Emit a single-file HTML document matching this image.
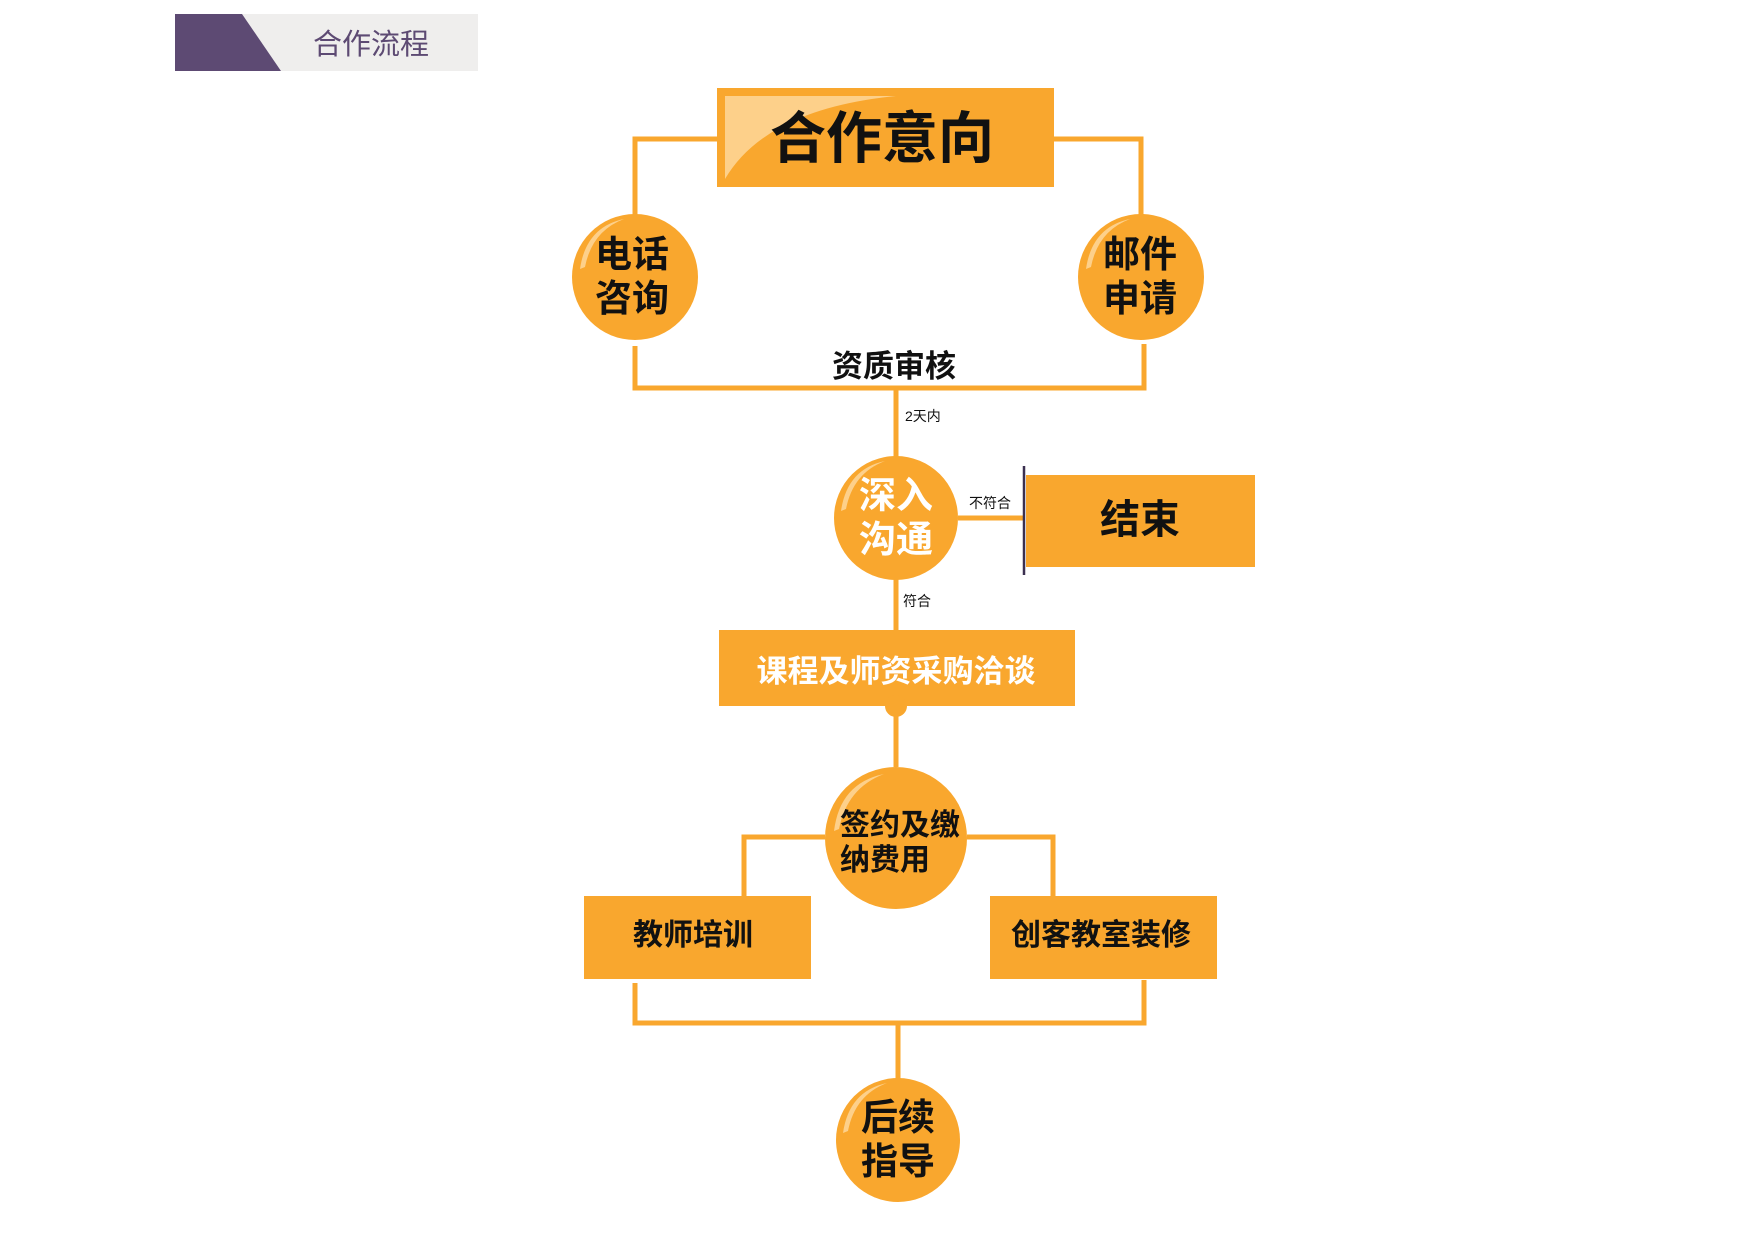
<!DOCTYPE html>
<html><head><meta charset="utf-8"><style>
html,body{margin:0;padding:0;background:#fff;}
svg{display:block;}
text{font-family:"Liberation Sans","Noto Sans CJK SC",sans-serif;}
</style></head><body>
<svg width="1754" height="1240" viewBox="0 0 1754 1240" xmlns="http://www.w3.org/2000/svg">
<rect x="175" y="14" width="303" height="57" fill="#efeeed"/>
<polygon points="175,14 242,14 281,71 175,71" fill="#5d4a73"/>
<text x="371" y="54" font-size="29" fill="#5d4a73" text-anchor="middle">合作流程</text>

<g transform="translate(-4,-1)">
<g stroke="#f9a72e" stroke-width="5" fill="none">
<polyline points="721,140 639,140 639,216"/>
<polyline points="1058,140 1145,140 1145,216"/>
<polyline points="639,347 639,389 1148,389 1148,345"/>
<line x1="900" y1="389" x2="900" y2="458"/>
<line x1="962" y1="519" x2="1028" y2="519"/>
<line x1="900" y1="580" x2="900" y2="632"/>
<line x1="900" y1="706" x2="900" y2="768"/>
<polyline points="829,838 748,838 748,897"/>
<polyline points="971,838 1057,838 1057,897"/>
<polyline points="639,984 639,1024 1148,1024 1148,981"/>
<line x1="902" y1="1024" x2="902" y2="1080"/>
</g>
<line x1="1028" y1="467" x2="1028" y2="576" stroke="#3b3050" stroke-width="2.5"/>

<rect x="721" y="89" width="337" height="99" fill="#f9a72e"/>
<path d="M729,97 L900,97 Q770,110 729,180 Z" fill="#fdd08a"/>
<text x="886" y="159" font-size="56" font-weight="bold" text-anchor="middle" fill="#111">合作意向</text>

<g>
<circle cx="639" cy="278" r="63" fill="#f9a72e"/>
<path d="M584,270 Q590,228 628,220 Q596,232 589,268 Z" fill="#fdd08a"/>
<text x="636" y="268" font-size="37" font-weight="bold" text-anchor="middle" fill="#111">电话</text>
<text x="636" y="312" font-size="37" font-weight="bold" text-anchor="middle" fill="#111">咨询</text>
</g>
<g>
<circle cx="1145" cy="278" r="63" fill="#f9a72e"/>
<path d="M1090,270 Q1096,228 1134,220 Q1102,232 1095,268 Z" fill="#fdd08a"/>
<text x="1144" y="268" font-size="37" font-weight="bold" text-anchor="middle" fill="#111">邮件</text>
<text x="1144" y="312" font-size="37" font-weight="bold" text-anchor="middle" fill="#111">申请</text>
</g>
<text x="898" y="378" font-size="31" font-weight="bold" text-anchor="middle" fill="#111">资质审核</text>
<text x="909" y="422" font-size="14" fill="#111">2天内</text>

<g>
<circle cx="900" cy="519" r="62" fill="#f9a72e"/>
<path d="M845,512 Q851,470 889,462 Q857,474 850,510 Z" fill="#fdd08a"/>
<text x="900" y="509" font-size="37" font-weight="bold" text-anchor="middle" fill="#fff">深入</text>
<text x="900" y="553" font-size="37" font-weight="bold" text-anchor="middle" fill="#fff">沟通</text>
</g>
<text x="973" y="509" font-size="14" fill="#111">不符合</text>
<rect x="1030" y="476" width="229" height="92" fill="#f9a72e"/>
<text x="1144" y="534" font-size="40" font-weight="bold" text-anchor="middle" fill="#111">结束</text>
<text x="907" y="607" font-size="14" fill="#111">符合</text>

<rect x="723" y="631" width="356" height="76" fill="#f9a72e"/>
<text x="900" y="683" font-size="31" font-weight="bold" text-anchor="middle" fill="#fff">课程及师资采购洽谈</text>
<circle cx="900" cy="707" r="11" fill="#f9a72e"/>

<g>
<circle cx="900" cy="839" r="71" fill="#f9a72e"/>
<path d="M838,832 Q844,784 888,775 Q851,789 843,830 Z" fill="#fdd08a"/>
<text x="844" y="836" font-size="30" font-weight="bold" fill="#111">签约及缴</text>
<text x="844" y="871" font-size="30" font-weight="bold" fill="#111">纳费用</text>
</g>

<rect x="588" y="897" width="227" height="83" fill="#f9a72e"/>
<text x="697" y="946" font-size="30" font-weight="bold" text-anchor="middle" fill="#111">教师培训</text>
<rect x="994" y="897" width="227" height="83" fill="#f9a72e"/>
<text x="1105" y="946" font-size="30" font-weight="bold" text-anchor="middle" fill="#111">创客教室装修</text>

<g>
<circle cx="902" cy="1141" r="62" fill="#f9a72e"/>
<path d="M847,1134 Q853,1092 891,1084 Q859,1096 852,1132 Z" fill="#fdd08a"/>
<text x="902" y="1131" font-size="37" font-weight="bold" text-anchor="middle" fill="#111">后续</text>
<text x="902" y="1175" font-size="37" font-weight="bold" text-anchor="middle" fill="#111">指导</text>
</g>
</g>
</svg>
</body></html>
